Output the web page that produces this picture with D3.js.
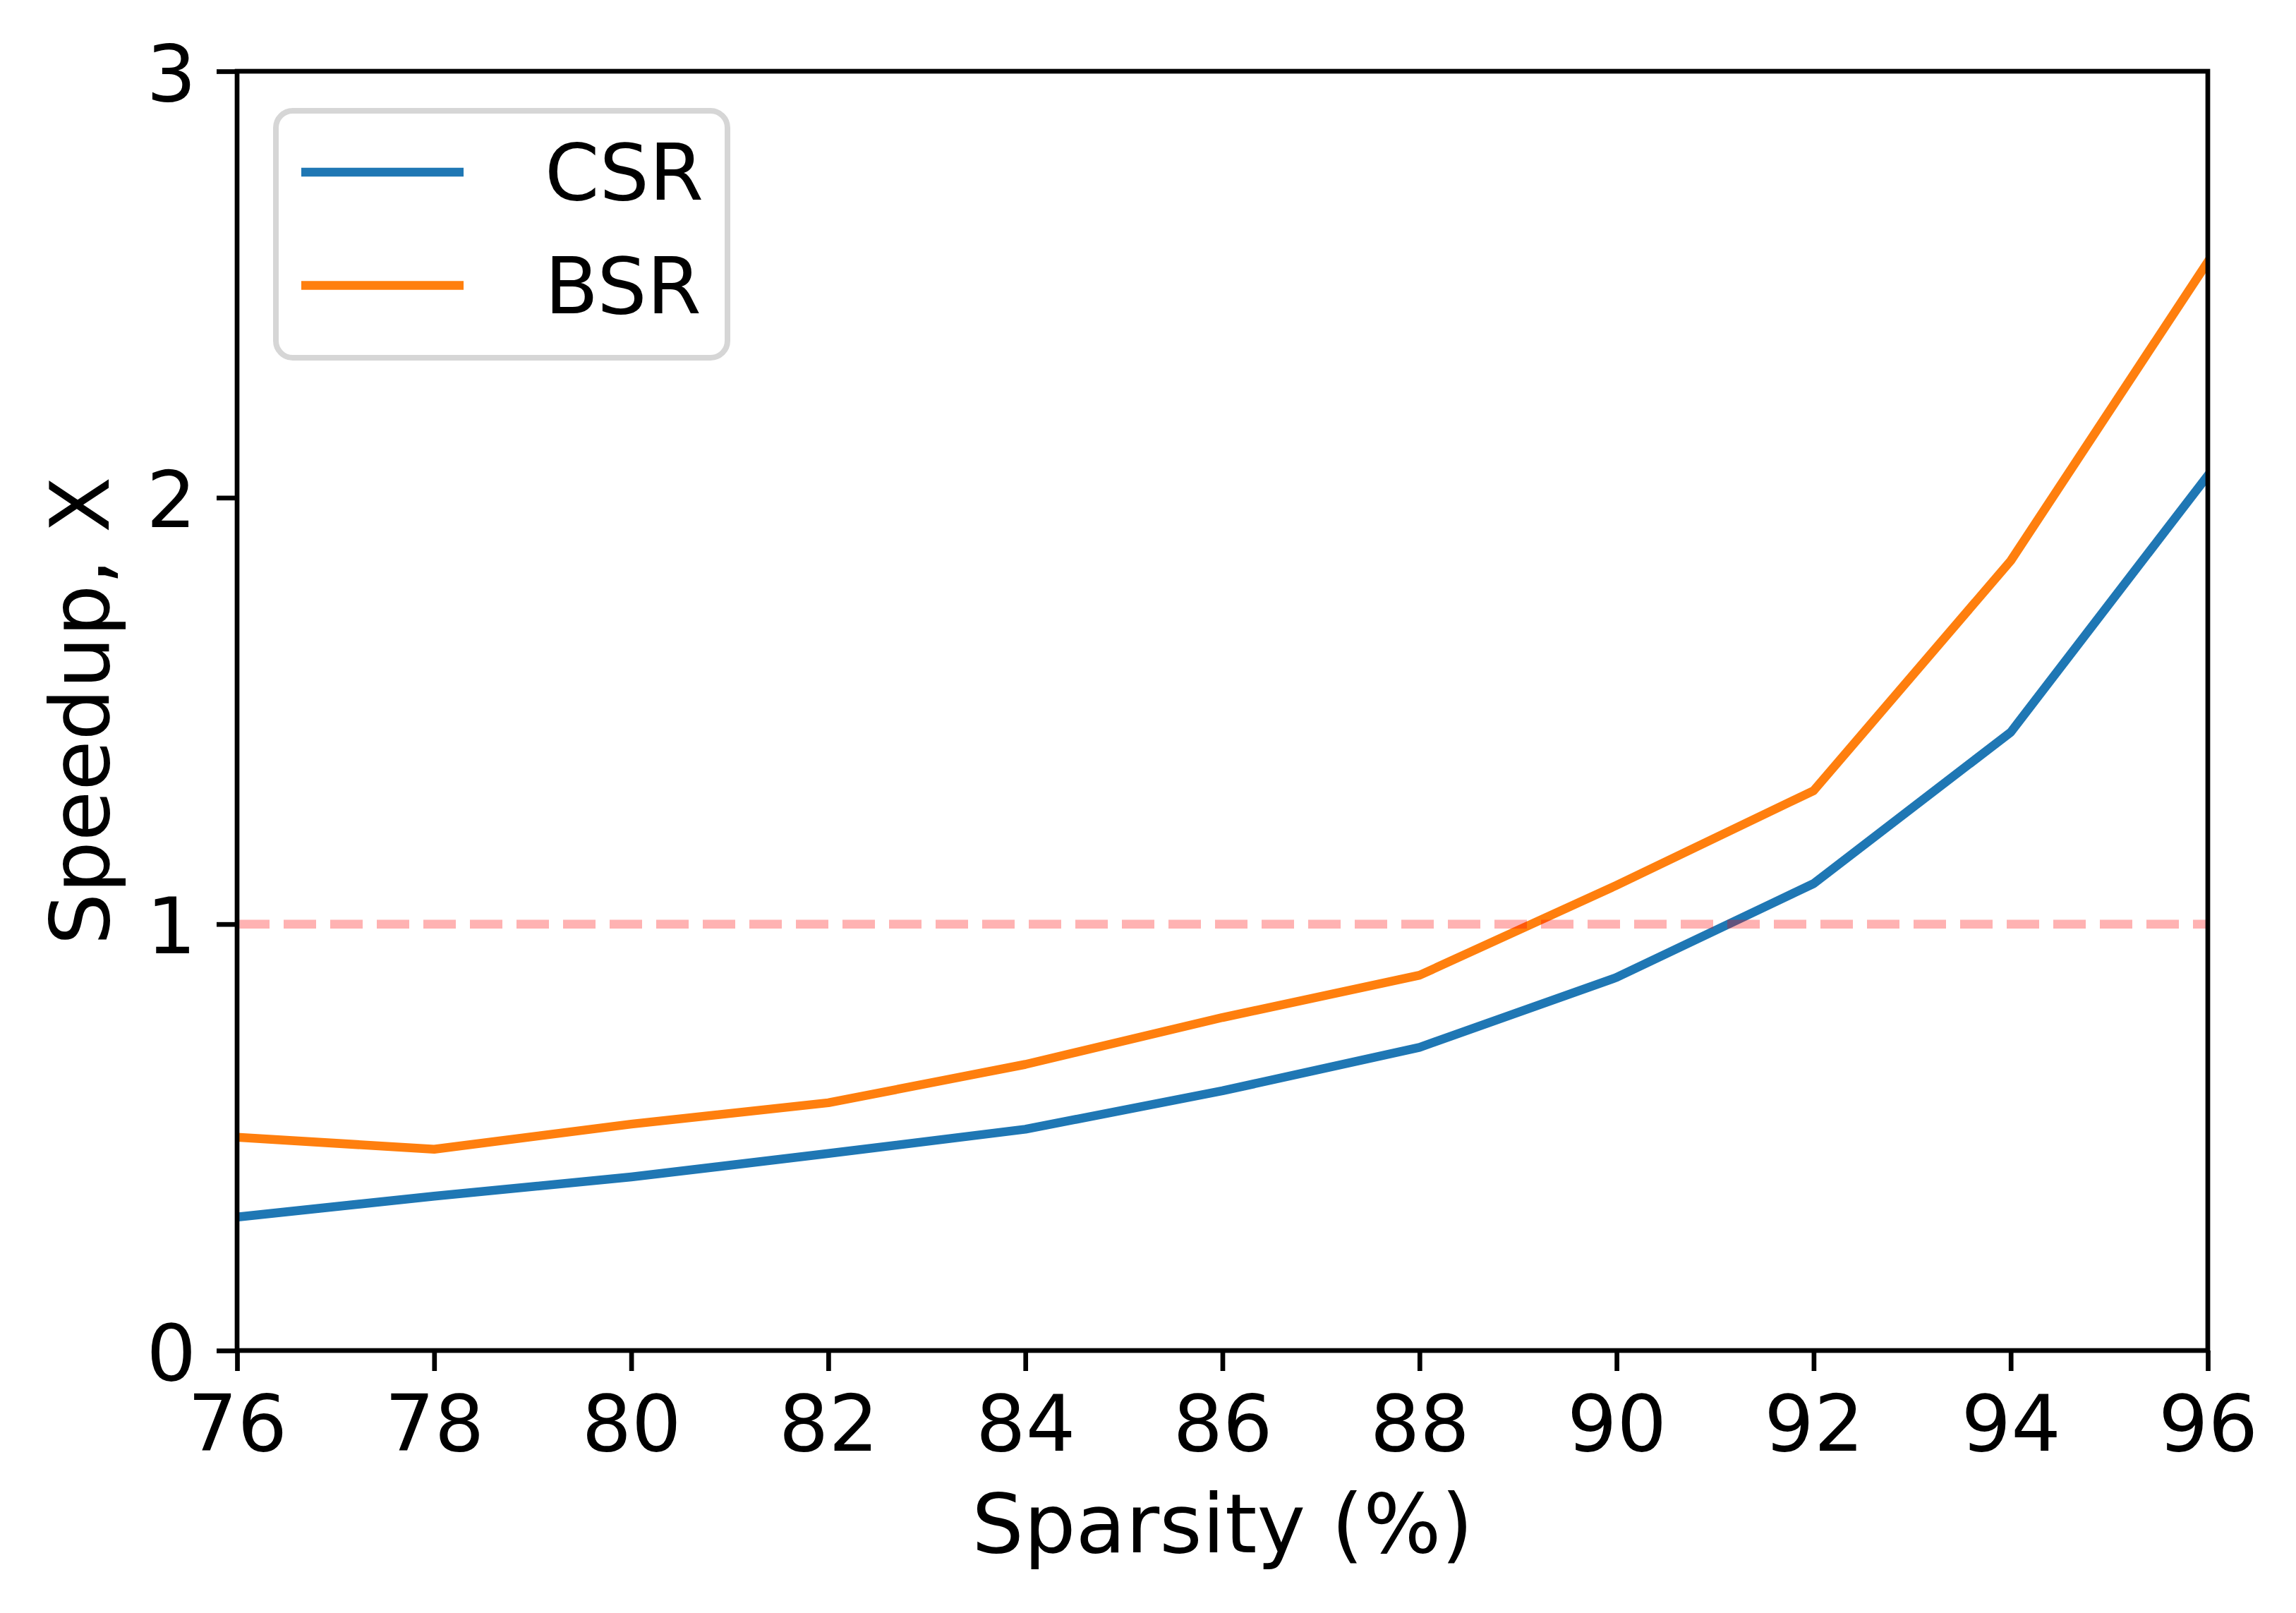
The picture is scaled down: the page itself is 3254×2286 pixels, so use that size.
<!DOCTYPE html>
<html>
<head>
<meta charset="utf-8">
<script src="https://cdn.jsdelivr.net/npm/d3@7"></script>
<style>
  html, body { margin: 0; padding: 0; background: #ffffff; }
  svg { display: block; }
  text { font-family: "DejaVu Sans", sans-serif; }
</style>
</head>
<body>
<svg id="chart" width="3254" height="2286"></svg>
<script>
// ---- data ----
const sparsity = [76, 78, 80, 82, 84, 86, 88, 90, 92, 94, 96];
const csrSpeedup = [0.313, 0.362, 0.407, 0.462, 0.519, 0.609, 0.711, 0.875, 1.095, 1.450, 2.052];
const bsrSpeedup = [0.500, 0.472, 0.531, 0.581, 0.671, 0.781, 0.880, 1.091, 1.313, 1.852, 2.553];
const seriesNames = ["CSR", "BSR"];
const xTicks = [76, 78, 80, 82, 84, 86, 88, 90, 92, 94, 96];
const yTicks = [0, 1, 2, 3];
const baselineValue = 1;
const xLabel = "Sparsity (%)";
const yLabel = "Speedup, X";

(function () {
// ---- layout ----
const W = 3254, H = 2286;
const pL = 336, pR = 3129, pT = 101, pB = 1914;
const colors = ["#1f77b4", "#ff7f0e"];
const fontTick = 111, fontLabel = 116;
const lw = 12.5, axisLw = 6.7, tickLen = 29;

const svg = d3.select("#chart");
svg.append("rect").attr("width", W).attr("height", H).attr("fill", "#ffffff");

const x = d3.scaleLinear().domain([76, 96]).range([pL, pR]);
const y = d3.scaleLinear().domain([0, 3]).range([pB, pT]);

svg.append("defs").append("clipPath").attr("id", "clip")
  .append("rect").attr("x", pL).attr("y", pT)
  .attr("width", pR - pL).attr("height", pB - pT);

const plot = svg.append("g").attr("clip-path", "url(#clip)");

const line = d3.line().x(d => x(d[0])).y(d => y(d[1]));
const series = [csrSpeedup, bsrSpeedup];
series.forEach((vals, i) => {
  plot.append("path")
    .datum(sparsity.map((s, j) => [s, vals[j]]))
    .attr("d", line)
    .attr("fill", "none")
    .attr("stroke", colors[i])
    .attr("stroke-width", lw)
    .attr("stroke-linejoin", "round")
    .attr("stroke-linecap", "square");
});

// baseline dashed line (red, alpha 0.3), drawn on top
plot.append("line")
  .attr("x1", x(76)).attr("x2", x(96))
  .attr("y1", y(baselineValue)).attr("y2", y(baselineValue))
  .attr("stroke", "red")
  .attr("stroke-opacity", 0.3)
  .attr("stroke-width", lw)
  .attr("stroke-dasharray", "46,20");

// ---- axes ----
const xAxis = d3.axisBottom(x).tickValues(xTicks).tickSize(tickLen).tickSizeOuter(0)
  .tickFormat(d3.format("d"));
const gx = svg.append("g").attr("transform", `translate(0,${pB})`).call(xAxis);
gx.select(".domain").remove();
gx.selectAll(".tick line").attr("stroke", "#000").attr("stroke-width", axisLw);
gx.selectAll(".tick text")
  .attr("y", 142).attr("dy", null)
  .attr("fill", "#000")
  .style("font-size", fontTick + "px")
  .style("font-family", "'DejaVu Sans', sans-serif");

const yAxis = d3.axisLeft(y).tickValues(yTicks).tickSize(tickLen).tickSizeOuter(0)
  .tickFormat(d3.format("d"));
const gy = svg.append("g").attr("transform", `translate(${pL},0)`).call(yAxis);
gy.select(".domain").remove();
gy.selectAll(".tick line").attr("stroke", "#000").attr("stroke-width", axisLw);
gy.selectAll(".tick text")
  .attr("x", -58).attr("dy", "0.37em")
  .attr("fill", "#000")
  .style("font-size", fontTick + "px")
  .style("font-family", "'DejaVu Sans', sans-serif");

// frame (spines)
svg.append("rect")
  .attr("x", pL).attr("y", pT)
  .attr("width", pR - pL).attr("height", pB - pT)
  .attr("fill", "none").attr("stroke", "#000").attr("stroke-width", axisLw)
  .attr("stroke-linejoin", "miter");

// axis labels
svg.append("text")
  .attr("x", (pL + pR) / 2).attr("y", 2200)
  .attr("text-anchor", "middle")
  .attr("fill", "#000")
  .style("font-size", fontLabel + "px")
  .text(xLabel);

svg.append("text")
  .attr("transform", `translate(154,${(pT + pB) / 2}) rotate(-90)`)
  .attr("text-anchor", "middle")
  .attr("fill", "#000")
  .style("font-size", fontLabel + "px")
  .text(yLabel);

// ---- legend ----
const lg = svg.append("g");
lg.append("rect")
  .attr("x", 391).attr("y", 157).attr("width", 640).attr("height", 350)
  .attr("rx", 24).attr("ry", 24)
  .attr("fill", "#ffffff").attr("fill-opacity", 0.8)
  .attr("stroke", "#d6d6d6").attr("stroke-width", 8);
const legendRows = [244, 404.5];
seriesNames.forEach((name, i) => {
  lg.append("line")
    .attr("x1", 427).attr("x2", 657)
    .attr("y1", legendRows[i]).attr("y2", legendRows[i])
    .attr("stroke", colors[i]).attr("stroke-width", lw);
  lg.append("text")
    .attr("x", 772).attr("y", legendRows[i] + 39)
    .attr("fill", "#000")
    .style("font-size", fontTick + "px")
    .text(name);
});
})();
</script>
</body>
</html>
